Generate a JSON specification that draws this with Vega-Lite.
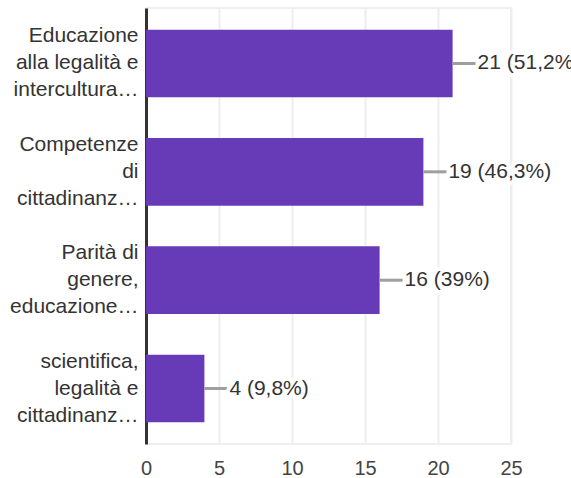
{
 "$schema": "https://vega.github.io/schema/vega-lite/v6.json",
 "width": 365, "height": 436,
 "autosize": {"type": "none"},
 "padding": {"left": 146, "top": 8, "right": 60, "bottom": 34},
 "background": "white",
 "config": {"view": {"stroke": "#eeeeee", "strokeWidth": 2}, "font": "Liberation Sans"},
 "data": {"values": [
  {"cat": "Educazione|alla legalità e|intercultura…", "n": 21, "label": "21 (51,2%)"},
  {"cat": "Competenze|di|cittadinanz…", "n": 19, "label": "19 (46,3%)"},
  {"cat": "Parità di|genere,|educazione…", "n": 16, "label": "16 (39%)"},
  {"cat": "scientifica,|legalità e|cittadinanz…", "n": 4, "label": "4 (9,8%)"}
 ]},
 "encoding": {
  "y": {"field": "cat", "type": "nominal", "sort": null, "title": null,
   "scale": {"paddingInner": 0.376, "paddingOuter": 0.2},
   "axis": {"labelExpr": "split(datum.label,'|')", "labelFontSize": 21, "labelLineHeight": 27, "labelOffset": -27, "labelColor": "#333", "labelAlign": "right", "ticks": false, "labelPadding": 8, "domainColor": "#333", "domainWidth": 3, "grid": false, "labelLimit": 200}},
  "x": {"field": "n", "type": "quantitative", "scale": {"domain": [0, 25]}, "title": null,
   "axis": {"values": [0, 5, 10, 15, 20, 25], "ticks": false, "domain": false, "gridColor": "#eeeeee", "gridWidth": 2, "labelFontSize": 20, "labelColor": "#444", "labelPadding": 14, "labelFlush": false, "labelOverlap": false}}
 },
 "layer": [
  {"mark": {"type": "bar", "color": "#673ab7"}},
  {"mark": {"type": "rule", "color": "#9e9e9e", "strokeWidth": 3, "x2Offset": 23}, "encoding": {"x2": {"field": "n"}}},
  {"mark": {"type": "text", "align": "left", "dx": 25, "fontSize": 21, "stroke": "white", "strokeWidth": 8, "strokeJoin": "round"}, "encoding": {"text": {"field": "label"}}},
  {"mark": {"type": "text", "align": "left", "dx": 25, "fontSize": 21, "color": "#333"}, "encoding": {"text": {"field": "label"}}}
 ]
}
